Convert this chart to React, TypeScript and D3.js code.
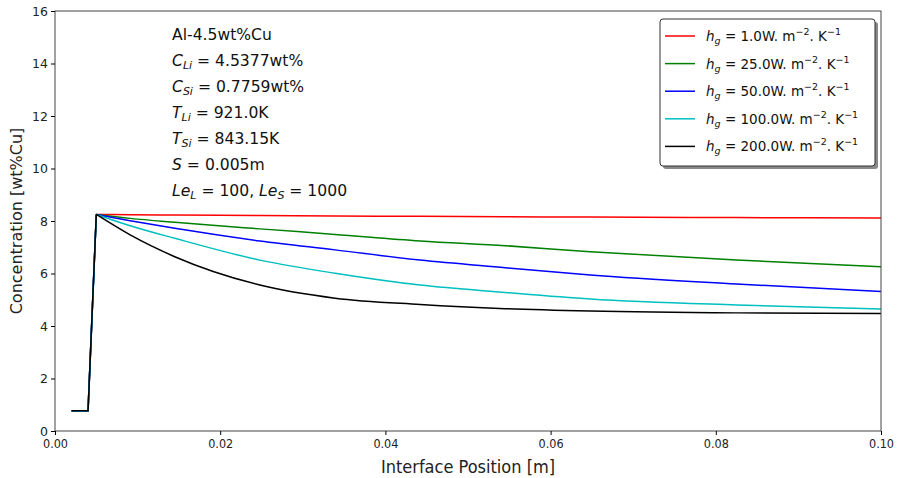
import React, { useEffect, useRef } from "react";
import * as d3 from "d3";

// interface position [m]
const positions = [0.002, 0.004, 0.005, 0.0091, 0.0145, 0.0248, 0.0339, 0.0442, 0.0545, 0.0648, 0.0825, 0.1];

const red = [0.77, 0.77, 8.25, 8.24, 8.23, 8.21, 8.19, 8.18, 8.16, 8.15, 8.13, 8.11];
const green = [0.77, 0.77, 8.25, 8.1, 7.95, 7.7, 7.49, 7.24, 7.06, 6.83, 6.51, 6.26];
const blue = [0.77, 0.77, 8.25, 8.01, 7.72, 7.24, 6.9, 6.51, 6.22, 5.94, 5.6, 5.31];
const cyan = [0.77, 0.77, 8.25, 7.82, 7.34, 6.51, 6.01, 5.56, 5.28, 5.03, 4.8, 4.65];
const black = [0.77, 0.77, 8.25, 7.47, 6.64, 5.56, 5.06, 4.82, 4.66, 4.57, 4.5, 4.48];

const hgLabels = ["1.0", "25.0", "50.0", "100.0", "200.0"];
const xTicks = [0, 0.02, 0.04, 0.06, 0.08, 0.1];
const yTicks = [0, 2, 4, 6, 8, 10, 12, 14, 16];

const series = [
  { values: red, color: "#ff0000", hg: hgLabels[0] },
  { values: green, color: "#008000", hg: hgLabels[1] },
  { values: blue, color: "#0000ff", hg: hgLabels[2] },
  { values: cyan, color: "#00bfbf", hg: hgLabels[3] },
  { values: black, color: "#000000", hg: hgLabels[4] },
];

const W = 900;
const H = 478;
const margin = { top: 11, right: 19, bottom: 47, left: 55 };

export default function App() {
  const ref = useRef<SVGSVGElement>(null);

  useEffect(() => {
    const svg = d3.select(ref.current);
    svg.selectAll("*").remove();
    const width = W - margin.left - margin.right;
    const height = H - margin.top - margin.bottom;

    const g = svg.append("g").attr("transform", `translate(${margin.left},${margin.top})`);

    const x = d3.scaleLinear().domain([0, 0.1]).range([0, width]);
    const y = d3.scaleLinear().domain([0, 16]).range([height, 0]);

    // curves: straight rise, then smooth decay
    series.forEach((s) => {
      const pts = positions.map((p, i) => [p, s.values[i]] as [number, number]);
      const lin = d3.line().x((d) => x(d[0])).y((d) => y(d[1]));
      const smooth = d3
        .line()
        .x((d) => x(d[0]))
        .y((d) => y(d[1]))
        .curve(d3.curveMonotoneX);
      g.append("path")
        .attr("d", lin(pts.slice(0, 3)))
        .attr("fill", "none")
        .attr("stroke", s.color)
        .attr("stroke-width", 1.5);
      g.append("path")
        .attr("d", smooth(pts.slice(2)))
        .attr("fill", "none")
        .attr("stroke", s.color)
        .attr("stroke-width", 1.5);
    });

    // frame
    g.append("rect")
      .attr("width", width)
      .attr("height", height)
      .attr("fill", "none")
      .attr("stroke", "#444")
      .attr("stroke-width", 1);

    const xAxis = g
      .append("g")
      .attr("transform", `translate(0,${height})`)
      .call(d3.axisBottom(x).tickValues(xTicks).tickFormat(d3.format(".2f")).tickSize(4).tickPadding(4));
    xAxis.select(".domain").remove();
    xAxis
      .selectAll("text")
      .attr("font-family", "DejaVu Sans Condensed, DejaVu Sans")
      .attr("font-stretch", "condensed")
      .attr("font-size", 12.5)
      .attr("fill", "#222");

    const yAxis = g.append("g").call(d3.axisLeft(y).tickValues(yTicks).tickSize(4).tickPadding(3));
    yAxis.select(".domain").remove();
    yAxis.selectAll("text").attr("font-family", "DejaVu Sans").attr("font-size", 12.5).attr("fill", "#222");

    svg
      .append("text")
      .attr("x", margin.left + width / 2)
      .attr("y", 473)
      .attr("text-anchor", "middle")
      .attr("font-family", "DejaVu Sans Condensed, DejaVu Sans")
      .attr("font-stretch", "condensed")
      .attr("font-size", 18)
      .attr("fill", "#222")
      .text("Interface Position [m]");

    svg
      .append("text")
      .attr("transform", `translate(22,${margin.top + height / 2}) rotate(-90)`)
      .attr("text-anchor", "middle")
      .attr("font-family", "DejaVu Sans")
      .attr("font-size", 16)
      .attr("fill", "#222")
      .text("Concentration [wt%Cu]");

    // annotation block
    const notes: [string, string, string][] = [
      ["Al-4.5wt%Cu", "", ""],
      ["C", "Li", " = 4.5377wt%"],
      ["C", "Si", " = 0.7759wt%"],
      ["T", "Li", " = 921.0K"],
      ["T", "Si", " = 843.15K"],
      ["S", "", " = 0.005m"],
    ];
    const lineGap = 26.1;
    const note = svg.append("g").attr("font-family", "DejaVu Sans").attr("font-size", 15.6).attr("fill", "#111");
    notes.forEach((n, i) => {
      const t = note.append("text").attr("x", 172).attr("y", 39.5 + i * lineGap);
      if (i === 0) {
        t.text(n[0]);
        return;
      }
      t.append("tspan").attr("font-style", "italic").text(n[0]);
      if (n[1]) t.append("tspan").attr("font-style", "italic").attr("font-size", 11).attr("dy", 3).text(n[1]);
      t.append("tspan").attr("dy", n[1] ? -3 : 0).text(n[2]);
    });
    const le = note.append("text").attr("x", 172).attr("y", 39.5 + 6 * lineGap);
    le.append("tspan").attr("font-style", "italic").text("Le");
    le.append("tspan").attr("font-style", "italic").attr("font-size", 11).attr("dy", 3).text("L");
    le.append("tspan").attr("dy", -3).text(" = 100, ");
    le.append("tspan").attr("font-style", "italic").text("Le");
    le.append("tspan").attr("font-style", "italic").attr("font-size", 11).attr("dy", 3).text("S");
    le.append("tspan").attr("dy", -3).text(" = 1000");

    // legend
    const lg = svg.append("g");
    lg.append("rect")
      .attr("x", 663)
      .attr("y", 22)
      .attr("width", 215)
      .attr("height", 147)
      .attr("rx", 3)
      .attr("fill", "#888");
    lg.append("rect")
      .attr("x", 660)
      .attr("y", 19)
      .attr("width", 215)
      .attr("height", 147)
      .attr("rx", 3)
      .attr("fill", "#fff")
      .attr("stroke", "#333")
      .attr("stroke-width", 1);
    series.forEach((s, i) => {
      const cy = 36 + i * 27.6;
      lg.append("line")
        .attr("x1", 665)
        .attr("x2", 695)
        .attr("y1", cy)
        .attr("y2", cy)
        .attr("stroke", s.color)
        .attr("stroke-width", 1.5);
      const t = lg
        .append("text")
        .attr("x", 706)
        .attr("y", cy + 5)
        .attr("font-family", "DejaVu Sans")
        .attr("font-size", 13.5)
        .attr("fill", "#111");
      t.append("tspan").attr("font-style", "italic").text("h");
      t.append("tspan").attr("font-style", "italic").attr("font-size", 9.5).attr("dy", 3).text("g");
      t.append("tspan").attr("dy", -3).text(` = ${s.hg}W. m`);
      t.append("tspan").attr("font-size", 9.5).attr("dy", -6).text("\u22122");
      t.append("tspan").attr("dy", 6).text(". K");
      t.append("tspan").attr("font-size", 9.5).attr("dy", -6).text("\u22121");
    });
  }, []);

  return <svg ref={ref} width={W} height={H} style={{ display: "block", position: "absolute", left: 0, top: 0 }} />;
}
